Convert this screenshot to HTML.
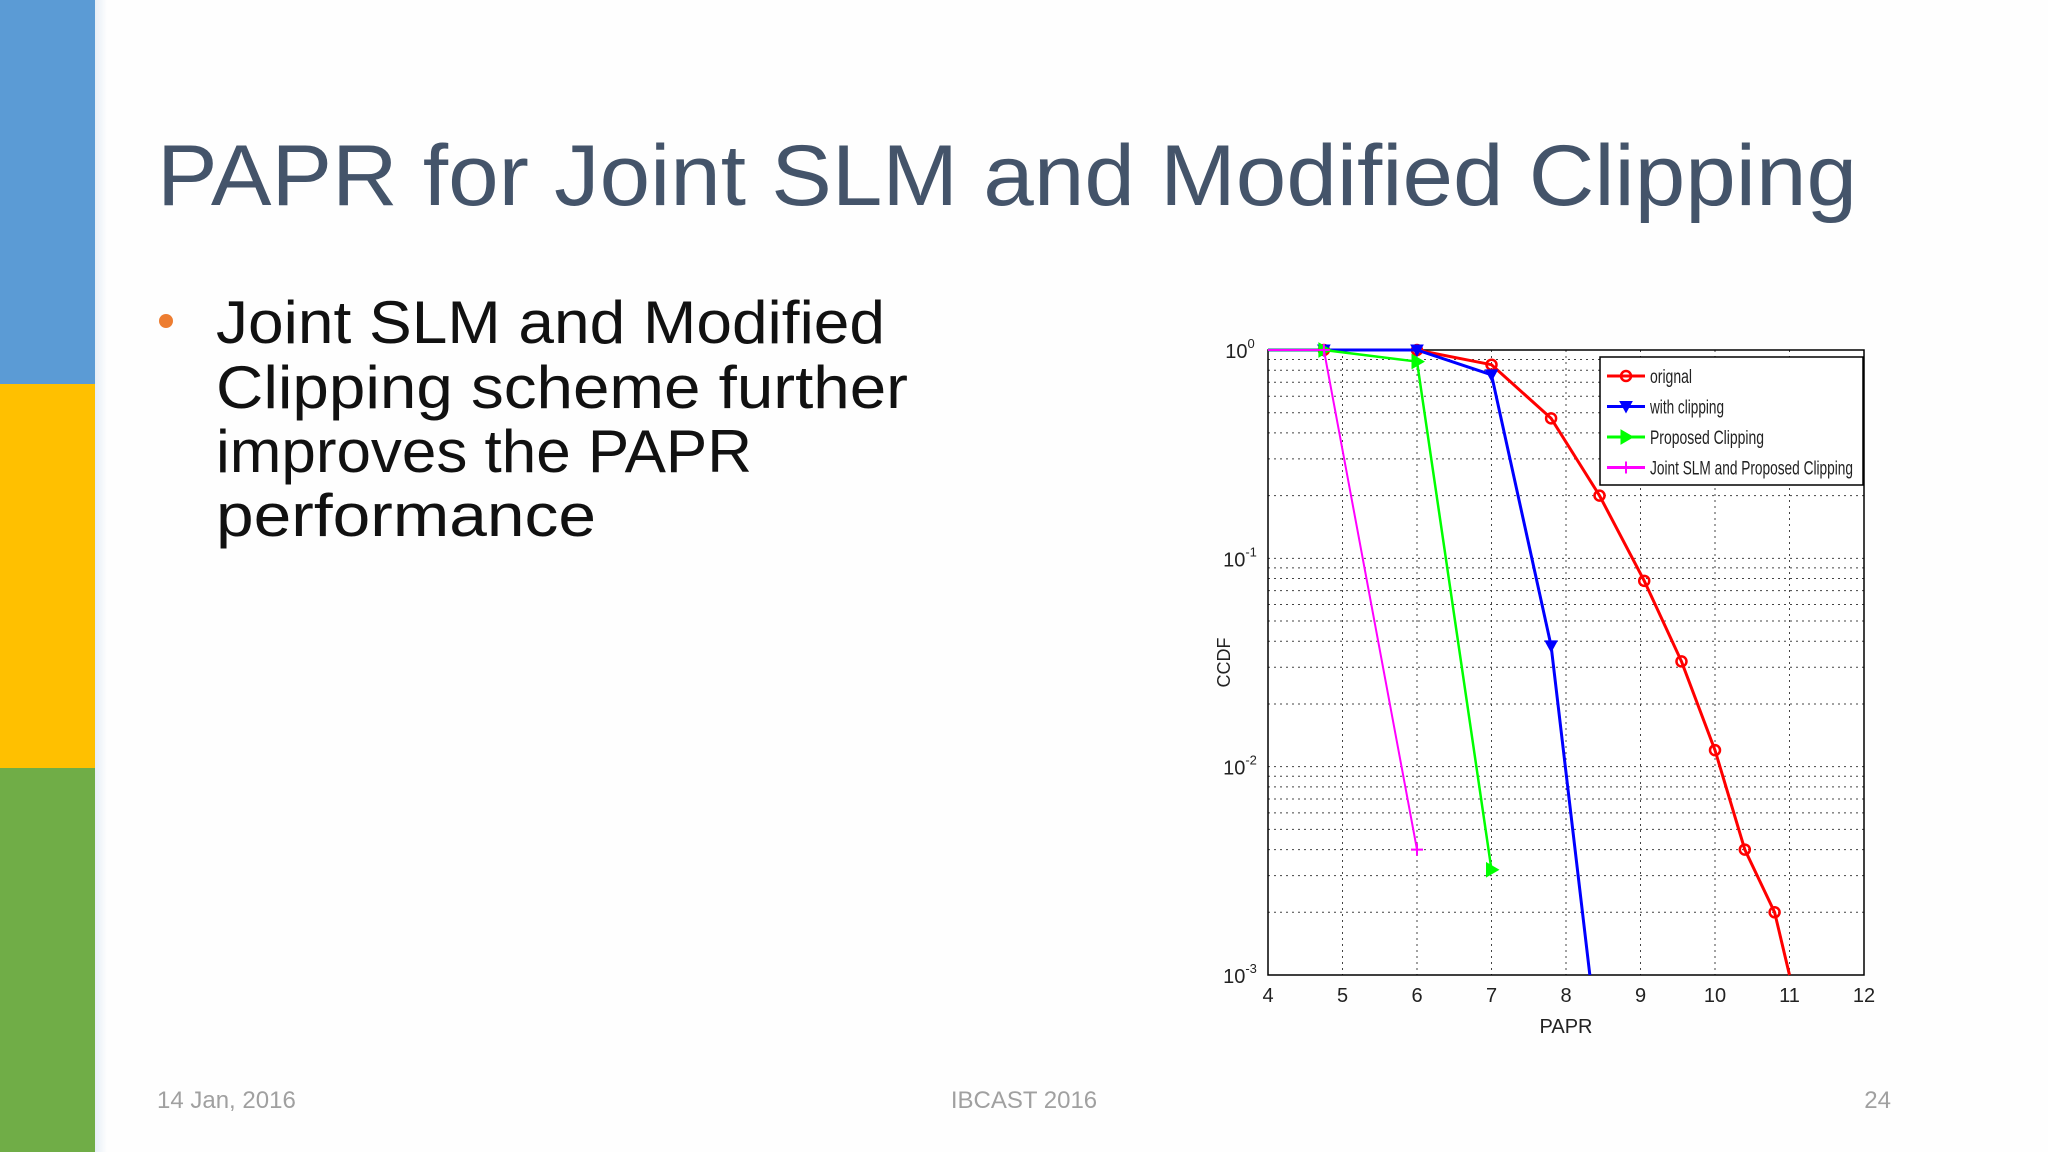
<!DOCTYPE html>
<html><head><meta charset="utf-8"><style>
html,body{margin:0;padding:0;background:#fefefe;}
body{width:2048px;height:1152px;position:relative;overflow:hidden;font-family:"Liberation Sans",sans-serif;}
.bar{position:absolute;left:0;width:95px;}
svg text{font-family:"Liberation Sans",sans-serif;}
</style></head><body>
<div class="bar" style="top:0;height:384px;background:#5b9bd5"></div>
<div class="bar" style="top:384px;height:384px;background:#ffc000"></div>
<div class="bar" style="top:768px;height:384px;background:#70ad47"></div>
<div style="position:absolute;left:95px;top:0;width:12px;height:1152px;background:linear-gradient(90deg,#e6eef6,#fefefe)"></div>
<svg id="slide" width="2048" height="1152" style="position:absolute;left:0;top:0">
<text x="157" y="205" font-size="86" fill="#44546a" textLength="1700" lengthAdjust="spacingAndGlyphs">PAPR for Joint SLM and Modified Clipping</text>
<circle cx="166" cy="321" r="7" fill="#ed7d31"/>
<g font-size="60" fill="#111">
<text x="216" y="343" textLength="669" lengthAdjust="spacingAndGlyphs">Joint SLM and Modified</text>
<text x="216" y="408" textLength="692" lengthAdjust="spacingAndGlyphs">Clipping scheme further</text>
<text x="216" y="472" textLength="536" lengthAdjust="spacingAndGlyphs">improves the PAPR</text>
<text x="216" y="536" textLength="380" lengthAdjust="spacingAndGlyphs">performance</text>
</g>
<text x="157" y="1108" font-size="24" fill="#a0a0a0">14 Jan, 2016</text>
<text x="1024" y="1108" font-size="24" fill="#a0a0a0" text-anchor="middle">IBCAST 2016</text>
<text x="1891" y="1108" font-size="24" fill="#a0a0a0" text-anchor="end">24</text>
<g id="chart"></g>
</svg>
<script>
const xTicks=[4,5,6,7,8,9,10,11,12];
const yDecades=[0,-1,-2,-3];
const seriesNames=["orignal","with clipping","Proposed Clipping","Joint SLM and Proposed Clipping"];
const seriesColors=["#ff0000","#0000ff","#00ff00","#ff00ff"];
const origX=[4,4.75,6,7,7.8,8.45,9.05,9.55,10,10.4,10.8,11];
const origY=[1,1,1,0.85,0.47,0.2,0.078,0.032,0.012,0.004,0.002,0.001];
const clipX=[4,4.75,6,7,7.8,8.32];
const clipY=[1,1,1,0.76,0.038,0.001];
const propX=[4,4.75,6,7];
const propY=[1,1,0.88,0.0032];
const jointX=[4,4.75,6];
const jointY=[1,1,0.004];

const NS="http://www.w3.org/2000/svg";
const g=document.getElementById('chart');
const L=1268,R=1864,T=350,B=975;
const sx=v=>L+(v-4)/(12-4)*(R-L);
const sy=v=>T+(0-Math.log10(v))/3*(B-T);
function mk(tag,attrs,parent){const e=document.createElementNS(NS,tag);for(const k in attrs)e.setAttribute(k,attrs[k]);(parent||g).appendChild(e);return e;}
mk('rect',{x:L,y:T,width:R-L,height:B-T,fill:'#fff'});
// grid
xTicks.forEach(t=>{if(t>4&&t<12){const l=mk('line',{x1:sx(t),x2:sx(t),y1:T,y2:B,stroke:'#444','stroke-width':1,'stroke-dasharray':'2,4'});

}});
for(let d=-3;d<0;d++){for(let m=1;m<10;m++){const v=m*Math.pow(10,d);if(d===-3&&m===1)continue;const l=mk('line',{x1:L,x2:R,y1:sy(v),y2:sy(v),stroke:'#444','stroke-width':1,'stroke-dasharray':'2,4'});

}}
const frame=mk('rect',{x:L,y:T,width:R-L,height:B-T,fill:'none',stroke:'#000','stroke-width':1.5});


xTicks.forEach(t=>{const tx=mk('text',{x:sx(t),y:B+27,'font-size':20,'text-anchor':'middle',fill:'#222'});tx.textContent=t;

});
yDecades.forEach(d=>{const tx=mk('text',{x:L-28,y:sy(Math.pow(10,d))+8,'font-size':20,'text-anchor':'middle',fill:'#222'});tx.textContent='10';
const s=mk('tspan',{dy:-10,'font-size':13},tx);s.textContent=d;

});
const xl=mk('text',{x:(L+R)/2,y:B+58,'font-size':20,'text-anchor':'middle',fill:'#222'});xl.textContent='PAPR';


const yl=mk('text',{x:0,y:0,'font-size':18,'text-anchor':'middle',fill:'#222',transform:`translate(1230,${(T+B)/2}) rotate(-90)`});yl.textContent='CCDF';


function marker(type,x,y,c){
 if(type===0)return mk('circle',{cx:x,cy:y,r:5,fill:'none',stroke:c,'stroke-width':2.5});
 if(type===1)return mk('path',{d:`M${x-6},${y-5}L${x+6},${y-5}L${x},${y+6}Z`,fill:c,stroke:c});
 if(type===2)return mk('path',{d:`M${x-5},${y-7}L${x+7},${y}L${x-5},${y+7}Z`,fill:c,stroke:c});
 return mk('path',{d:`M${x-6},${y}L${x+6},${y}M${x},${y-6}L${x},${y+6}`,stroke:c,'stroke-width':2});
}
const allX=[origX,clipX,propX,jointX],allY=[origY,clipY,propY,jointY];
const widths=[3,3,2.5,2];
allX.forEach((xs,i)=>{
 const pts=xs.map((x,j)=>sx(x)+','+sy(allY[i][j])).join(' ');
 const pl=mk('polyline',{points:pts,fill:'none',stroke:seriesColors[i],'stroke-width':widths[i]});
 
 
 xs.forEach((x,j)=>{if(j===0)return;const y=allY[i][j];if(i===1&&j===xs.length-1)return;if(i===0&&j===xs.length-1)return;
  const m=marker(i,sx(x),sy(y),seriesColors[i]);
  
  });
});
// legend
const lg=mk('g',{});


mk('rect',{x:1600,y:357,width:263,height:128,fill:'#fff',stroke:'#000','stroke-width':1.5},lg);
seriesNames.forEach((n,i)=>{const y=376+i*30.5;
 mk('line',{x1:1607,x2:1645,y1:y,y2:y,stroke:seriesColors[i],'stroke-width':3},lg);
 const m=marker(i,1626,y,seriesColors[i]);
 const t=mk('text',{x:1650,y:y+7,'font-size':19,fill:'#222',textLength:[42,74,114,203][i],lengthAdjust:'spacingAndGlyphs'},lg);t.textContent=n;
 
 
});
</script>
</body></html>
